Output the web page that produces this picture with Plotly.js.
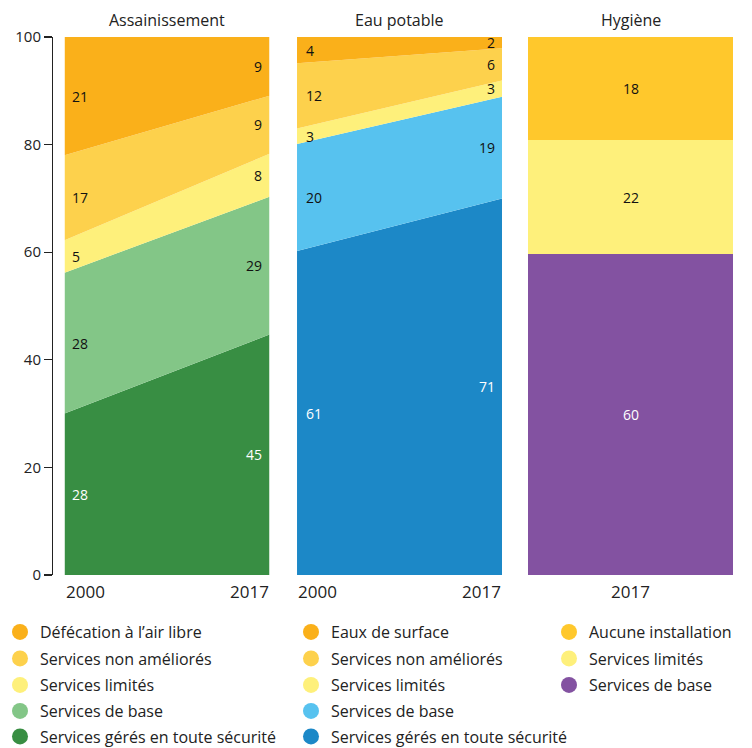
<!DOCTYPE html>
<html>
<head>
<meta charset="utf-8">
<script src="https://cdn.plot.ly/plotly-3.0.1.min.js"></script>
<style>html,body{margin:0;padding:0;background:#fff;}#chart{width:752px;height:748px;}</style>
</head>
<body>
<div id="chart"></div>
<script>
// ---------- DATA ----------
const years = [2000, 2017];
const panelTitles = ['Assainissement', 'Eau potable', 'Hygiène'];

// Assainissement (bottom to top)
const sanNames = ['Services gérés en toute sécurité', 'Services de base', 'Services limités', 'Services non améliorés', 'Défécation à l\u2019air libre'];
const sanSafe = [30.0, 44.7];
const sanBasic = [26.2, 25.6];
const sanLimited = [6.0, 8.0];
const sanUnimproved = [15.8, 10.8];
const sanOpen = [22.0, 10.9];
const sanSafeLbl = ['28', '45'];
const sanBasicLbl = ['28', '29'];
const sanLimitedLbl = ['5', '8'];
const sanUnimprovedLbl = ['17', '9'];
const sanOpenLbl = ['21', '9'];

// Eau potable (bottom to top)
const watNames = ['Services gérés en toute sécurité', 'Services de base', 'Services limités', 'Services non améliorés', 'Eaux de surface'];
const watSafe = [60.2, 70.0];
const watBasic = [19.9, 18.9];
const watLimited = [2.9, 3.0];
const watUnimproved = [12.1, 6.0];
const watSurface = [4.9, 2.1];
const watSafeLbl = ['61', '71'];
const watBasicLbl = ['20', '19'];
const watLimitedLbl = ['3', '3'];
const watUnimprovedLbl = ['12', '6'];
const watSurfaceLbl = ['4', '2'];

// Hygiène (bottom to top)
const hygCategory = ['2017'];
const hygNames = ['Services de base', 'Services limités', 'Aucune installation'];
const hygBasic = [59.6];
const hygLimited = [21.3];
const hygNone = [19.1];
const hygBasicLbl = ['60'];
const hygLimitedLbl = ['22'];
const hygNoneLbl = ['18'];

const yTicks = [0, 20, 40, 60, 80, 100];
const xTickLabels = ['2000', '2017'];

// ---------- STYLE ----------
const FONT = '"Open Sans", "Noto Sans", sans-serif';
const TXT = '#222222';
const sanColors = ['#388E43', '#83C687', '#FEF07B', '#FDD14C', '#FAB01A'];
const watColors = ['#1C88C7', '#57C2EF', '#FEF07B', '#FDD14C', '#FAB01A'];
const hygColors = ['#8352A1', '#FEF07B', '#FFC82C'];
const sanLblColors = ['#ffffff', '#111111', '#111111', '#111111', '#111111'];
const watLblColors = ['#ffffff', '#111111', '#111111', '#111111', '#111111'];
const hygLblColors = ['#ffffff', '#111111', '#111111'];

// legend placement (pixels of the page): column left edges, row centres
const PLOT_L = 52, PLOT_W = 681, PLOT_BOTTOM = 575, PLOT_H = 538;
const legendColLeft = [0, 291, 549];
const legendRowY = [632, 658.5, 685, 711, 736.5];

const traces = [];
const annotations = [];
const legends = {};
let legendCount = 0;

function addLegendEntry(name, color, xa, col, row) {
  legendCount++;
  const id = legendCount === 1 ? 'legend' : 'legend' + legendCount;
  legends[id] = {
    orientation: 'v', xanchor: 'left', yanchor: 'middle',
    x: (legendColLeft[col] - PLOT_L) / PLOT_W,
    y: (PLOT_BOTTOM - legendRowY[row]) / PLOT_H,
    font: {family: FONT, size: 16, color: TXT}, bgcolor: 'rgba(0,0,0,0)',
    borderwidth: 0, traceorder: 'normal', itemclick: false, itemdoubleclick: false
  };
  traces.push({
    type: 'scatter', mode: 'markers', x: [null], y: [null], xaxis: xa, yaxis: 'y',
    name: name, legend: id, showlegend: true,
    marker: {size: 16, color: color, symbol: 'circle'}, hoverinfo: 'skip'
  });
}

function addArea(series, labels, names, colors, lblColors, xa, col, insetL, insetR) {
  const cum = [0, 0];
  series.forEach((s, i) => {
    traces.push({
      type: 'scatter', mode: 'lines', x: years, y: s, stackgroup: 'g' + xa,
      xaxis: xa, yaxis: 'y', line: {width: 0}, fillcolor: colors[i],
      showlegend: false, hoverinfo: 'skip'
    });
    [0, 1].forEach(j => {
      const mid = cum[j] + s[j] / 2;
      annotations.push({
        xref: xa, yref: 'y', x: years[j], y: mid, text: labels[i][j],
        xanchor: j === 0 ? 'left' : 'right', yanchor: 'middle',
        xshift: j === 0 ? insetL : -insetR, showarrow: false,
        font: {family: FONT, size: 14, color: lblColors[i]}
      });
    });
    cum[0] += s[0]; cum[1] += s[1];
  });
  for (let i = series.length - 1, row = 0; i >= 0; i--, row++) {
    addLegendEntry(names[i], colors[i], xa, col, row);
  }
}

addArea([sanSafe, sanBasic, sanLimited, sanUnimproved, sanOpen],
        [sanSafeLbl, sanBasicLbl, sanLimitedLbl, sanUnimprovedLbl, sanOpenLbl],
        sanNames, sanColors, sanLblColors, 'x', 0, 5, 6);
addArea([watSafe, watBasic, watLimited, watUnimproved, watSurface],
        [watSafeLbl, watBasicLbl, watLimitedLbl, watUnimprovedLbl, watSurfaceLbl],
        watNames, watColors, watLblColors, 'x2', 1, 7, 5);

const hygSeries = [hygBasic, hygLimited, hygNone];
const hygLabels = [hygBasicLbl, hygLimitedLbl, hygNoneLbl];
let hcum = 0;
hygSeries.forEach((s, i) => {
  traces.push({
    type: 'bar', x: hygCategory, y: s, xaxis: 'x3', yaxis: 'y',
    marker: {color: hygColors[i], line: {width: 0}}, showlegend: false, hoverinfo: 'skip'
  });
  annotations.push({
    xref: 'x3 domain', yref: 'y', x: 0.5, y: hcum + s[0] / 2, text: hygLabels[i][0],
    xanchor: 'center', yanchor: 'middle', showarrow: false,
    font: {family: FONT, size: 14, color: hygLblColors[i]}
  });
  hcum += s[0];
});
for (let i = hygSeries.length - 1, row = 0; i >= 0; i--, row++) {
  addLegendEntry(hygNames[i], hygColors[i], 'x3', 2, row);
}

// panel titles
['x', 'x2', 'x3'].forEach((xa, k) => {
  annotations.push({
    xref: xa + ' domain', yref: 'paper', x: 0.5, y: (PLOT_BOTTOM - 20) / PLOT_H, text: panelTitles[k],
    xanchor: 'center', yanchor: 'middle', showarrow: false,
    font: {family: FONT, size: 16, color: TXT}
  });
});
// x labels
const xLblY = (PLOT_BOTTOM - 591) / PLOT_H;
['x', 'x2'].forEach(xa => {
  [0, 1].forEach(j => {
    annotations.push({
      xref: xa, yref: 'paper', x: years[j], y: xLblY, text: xTickLabels[j],
      xanchor: j === 0 ? 'left' : 'right', yanchor: 'middle', showarrow: false,
      xshift: j === 0 ? -1 : 1,
      font: {family: FONT, size: 17, color: TXT}
    });
  });
});
annotations.push({
  xref: 'x3 domain', yref: 'paper', x: 0.5, y: xLblY, text: hygCategory[0],
  xanchor: 'center', yanchor: 'middle', showarrow: false,
  font: {family: FONT, size: 17, color: TXT}
});

const xCommon = {range: [2000, 2017], showgrid: false, zeroline: false, showline: false,
  showticklabels: false, ticks: '', anchor: 'y', fixedrange: true};

const layout = Object.assign({
  width: 752, height: 748,
  margin: {l: PLOT_L, r: 752 - PLOT_L - PLOT_W, t: 37, b: 748 - 37 - PLOT_H, autoexpand: false},
  paper_bgcolor: '#ffffff', plot_bgcolor: '#ffffff',
  font: {family: FONT, color: TXT},
  barmode: 'stack', bargap: 0,
  showlegend: true,
  xaxis: Object.assign({}, xCommon, {domain: [0.0184, 0.3194]}),
  xaxis2: Object.assign({}, xCommon, {domain: [0.3598, 0.6608]}),
  xaxis3: Object.assign({}, xCommon, {domain: [0.699, 1], range: [-0.5, 0.5], type: 'category'}),
  yaxis: {range: [0, 100], tickvals: yTicks, ticktext: yTicks.map(String), anchor: 'free', position: 0,
    showgrid: false, zeroline: false, showline: true, linecolor: TXT, linewidth: 1.3,
    ticks: 'outside', ticklen: 8, tickcolor: TXT, tickwidth: 1.3,
    tickfont: {family: FONT, size: 15, color: TXT}, fixedrange: true},
  annotations: annotations
}, legends);

Plotly.newPlot('chart', traces, layout, {displayModeBar: false, staticPlot: true});
</script>
</body>
</html>
